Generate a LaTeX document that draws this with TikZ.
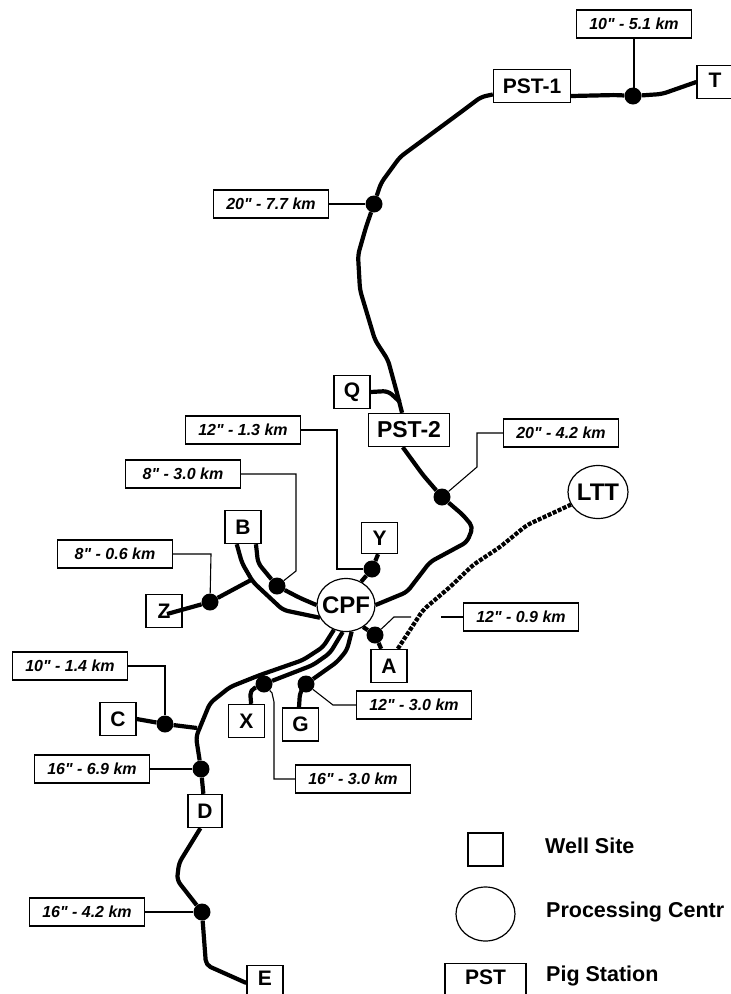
\documentclass[tikz,border=0pt]{standalone}
\usepackage{fontspec}
\newfontfamily\labelfont{Liberation Sans}
\usetikzlibrary{shapes.geometric}
\tikzset{
	well/.style={draw=black,line width=1.4pt,fill=white,inner sep=0pt,minimum width=36pt,minimum height=33pt,
		font=\labelfont\fontsize{21}{21}\selectfont\bfseries},
	pst/.style={well,minimum width=#1},
	hub/.style={ellipse,draw=black,line width=1.2pt,fill=white,inner ysep=0pt,inner xsep=-4pt,minimum width=58pt,minimum height=53pt,
		font=\labelfont\fontsize{24}{24}\selectfont\bfseries},
	tag/.style={draw=black,line width=1.4pt,fill=white,inner sep=0pt,minimum width=115pt,minimum height=28pt,
		font=\labelfont\fontsize{16}{16}\selectfont\bfseries\itshape},
	dot/.style={circle,fill=black,inner sep=0pt,minimum size=17pt},
	pipe/.style={draw=black,line width=4.2pt,line join=round,rounded corners=5pt},
	lead/.style={draw=black,line width=1.1pt},
	legendtext/.style={anchor=west,inner sep=0pt,font=\labelfont\fontsize{21.5}{21.5}\selectfont\bfseries},
}
\begin{document}
\begin{tikzpicture}[x=1pt,y=-1pt]
	\clip (0,0) rectangle (731,994);
	\node[pst=77pt] (PSTa) at (532,86) {PST-1};
	\node[pst=81pt,font=\labelfont\fontsize{23}{23}\selectfont\bfseries] (PSTb) at (409,430) {PST-2};
	\node[well,text height=15pt,text depth=4pt] (T) at (715,82) {T};
	\node[well] (Q) at (352,392) {Q};
	\node[well,minimum height=31pt] (Y) at (379.5,538) {Y};
	\node[well] (B) at (243,527) {B};
	\node[well] (Z) at (164,611) {Z};
	\node[well] (A) at (389,666) {A};
	\node[well] (C) at (118,719) {C};
	\node[well] (X) at (246.5,721) {X};
	\node[well] (G) at (300.5,724.5) {G};
	\node[well,minimum width=34pt] (D) at (205,811) {D};
	\node[well,text height=15pt,text depth=8pt] (E) at (265,982) {E};
	\node[hub] (CPF) at (346,605) {CPF};
	\node[hub,minimum width=60pt] (LTT) at (598,492) {LTT};
	\node[dot] (dT) at (633,96) {};
	\node[dot] (dN) at (374,204) {};
	\node[dot] (dS) at (442,497) {};
	\node[dot] (dY) at (372,569) {};
	\node[dot] (dB) at (277,586) {};
	\node[dot] (dZ) at (210,602) {};
	\node[dot] (dA) at (375,635) {};
	\node[dot] (dX) at (264,684) {};
	\node[dot] (dG) at (306,684) {};
	\node[dot] (dC) at (165,724) {};
	\node[dot] (dD) at (201,769) {};
	\node[dot] (dE) at (202,912) {};
	\node[tag] (tT) at (634,24) {10" - 5.1 km};
	\node[tag] (tN) at (271,204) {20" - 7.7 km};
	\node[tag] (tY) at (243,430) {12" - 1.3 km};
	\node[tag] (tS) at (561,433) {20" - 4.2 km};
	\node[tag] (tB) at (183,474) {8" - 3.0 km};
	\node[tag] (tZ) at (115,554) {8" - 0.6 km};
	\node[tag] (tA) at (521,617) {12" - 0.9 km};
	\node[tag] (tC) at (70,666) {10" - 1.4 km};
	\node[tag] (tG) at (414,705) {12" - 3.0 km};
	\node[tag] (tD) at (92,769) {16" - 6.9 km};
	\node[tag] (tX) at (353,779) {16" - 3.0 km};
	\node[tag] (tE) at (87,912) {16" - 4.2 km};
	\coordinate (zend) at (167,614);
	\coordinate (zjoin) at (251,580);
	\coordinate (cjoin) at (197,728);
	\coordinate (qjoin) at (400,402);
	\coordinate (agapl) at (411,617);
	\coordinate (agapr) at (441,617);
	\draw[pipe] (PSTa) -- (481,97) -- (457,115) -- (400,157) -- (381,183) -- (dN);
	\draw[pipe] (dN) -- (366,227) -- (358,255) -- (360,290) -- (375,340) -- (388,360) -- (397,393) -- (PSTb.112);
	\draw[pipe] (PSTa.east |- dT) -- (616,95) -- (dT);
	\draw[pipe] (dT) -- (662,94) -- (T.west);
	\draw[pipe] (Q.east) -- (388,391) -- (qjoin);
	\draw[pipe] (PSTb.-110) -- (423,475) -- (dS);
	\draw[pipe] (dS) -- (463,515) -- (473,527) -- (467,542) -- (430,562) -- (407,592) -- (CPF.0);
	\draw[pipe] (Y.-95) -- (dY) -- (CPF.57);
	\draw[pipe] (B.-53) -- (258,563) -- (dB) -- (300,598) -- (CPF.180);
	\draw[pipe] (B.-110) -- (242,563) -- (253,582) -- (283,610) -- (CPF.206);
	\draw[pipe] (zjoin) -- (dZ) -- (zend);
	\draw[pipe] (CPF.-52) -- (dA) -- (A);
	\draw[pipe] (CPF.-116) -- (323,647) -- (303,660) -- (260,675) -- (230,687) -- (210,703) -- (196,737) -- (dD);
	\draw[pipe] (dD) -- (D);
	\draw[pipe] (D.-105) -- (179,863) -- (177,880) -- (dE);
	\draw[pipe] (dE) -- (206,965) -- (E.183);
	\draw[pipe] (C.east) -- (dC) -- (cjoin);
	\draw[pipe] (CPF.-97) -- (330,653) -- (313,665) -- (dX);
	\draw[pipe] (dX) -- (250,690) -- (X.75);
	\draw[pipe] (CPF.-78) -- (347,650) -- (337,662) -- (dG);
	\draw[pipe] (dG) -- (300,692) -- (G.95);
	\draw[pipe,dashed,dash pattern=on 4pt off 1.5pt] (A.63) -- (423,610) -- (450,587) -- (473,565) -- (500,547) -- (527,525) -- (LTT.205);
	\draw[lead] (tT) -- (tT |- dT);
	\draw[lead] (tN) -- (dN);
	\draw[lead] (tY.east) -- (337,430) -- (337,569) -- (dY);
	\draw[lead] (tS.west) -- (477,433) -- (477,467) -- (dS);
	\draw[lead] (tB.east) -- (296,474) -- (296,571) -- (dB);
	\draw[lead] (tZ.east) -- (211,554) -- (dZ);
	\draw[lead] (dA) -- (394,617) -- (agapl);
	\draw[lead] (agapr) -- (tA.west);
	\draw[lead] (tC.east) -- (165,666) -- (dC);
	\draw[lead] (dG) -- (333,705) -- (tG.west);
	\draw[lead] (tD) -- (dD);
	\draw[lead] (dX) -- (272,693) -- (274,702) -- (274,779) -- (tX.west);
	\draw[lead] (tE) -- (dE);
	\node[well,minimum width=35pt] (lwell) at (485.5,849.5) {};
	\node[hub,minimum width=59pt,minimum height=54pt] (lhub) at (485.5,914) {};
	\node[pst=81pt,text height=15pt,text depth=6pt] (lpst) at (485.5,980) {PST};
	\node[legendtext] (twell) at (545,846) {Well Site};
	\node[legendtext] (thub) at (546,912) {Processing Centr};
	\node[legendtext] (tpst) at (546,976) {Pig Station};
\end{tikzpicture}
\end{document}
